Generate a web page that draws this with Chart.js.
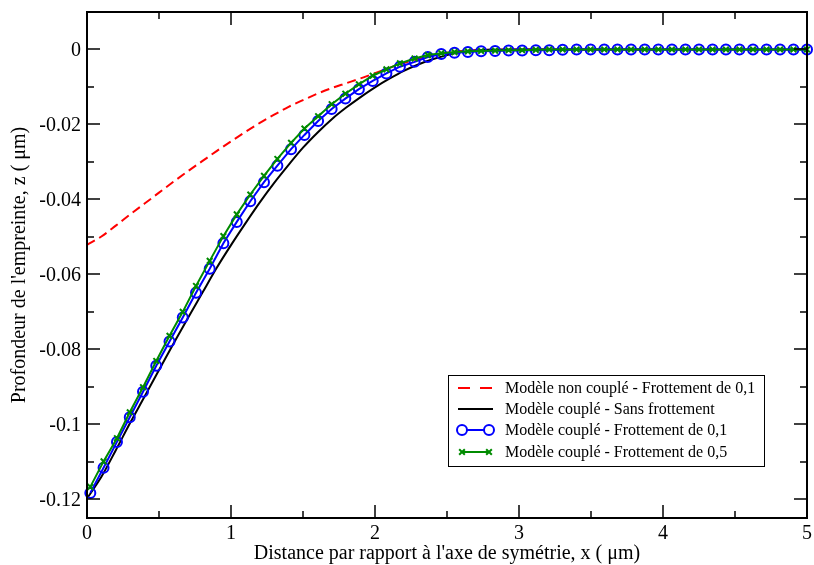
<!DOCTYPE html>
<html>
<head>
<meta charset="utf-8">
<script src="https://cdn.jsdelivr.net/npm/chart.js@4.4.1/dist/chart.umd.min.js"></script>
<style>
  html, body { margin: 0; padding: 0; background: #fff; }
</style>
</head>
<body>
<canvas id="chart" width="814" height="565"></canvas>
<script>
// Courbes continues (lignes sans symboles)
const curveX = [0, 0.1, 0.2, 0.3, 0.4, 0.5, 0.6, 0.7, 0.8, 0.9, 1.0, 1.1, 1.2, 1.3, 1.4, 1.5, 1.6, 1.7, 1.8, 1.9,
                2.0, 2.1, 2.2, 2.3, 2.4, 2.5, 2.6, 2.7, 2.8, 3.0, 4.0, 5.0];
const nonCoupleY = [-0.0521, -0.0499, -0.0470, -0.0440, -0.0411, -0.0382, -0.0353, -0.0325, -0.0298, -0.0271,
                    -0.0245, -0.0220, -0.0196, -0.0174, -0.0153, -0.0135, -0.0118, -0.0103, -0.0090, -0.0077,
                    -0.0063, -0.0049, -0.0036, -0.0025, -0.0016, -0.0009, -0.0004, -0.0002, -0.0001, 0, 0, 0];
const sansFrottY = [-0.1198, -0.1140, -0.1069, -0.0996, -0.0926, -0.0855, -0.0785, -0.0717, -0.0650, -0.0583,
                    -0.0522, -0.0464, -0.0408, -0.0356, -0.0308, -0.0262, -0.0222, -0.0186, -0.0155, -0.0127,
                    -0.0101, -0.0078, -0.0057, -0.0040, -0.0026, -0.0015, -0.0007, -0.0003, -0.0001, 0, 0, 0];

// Noeuds du modèle couplé (symboles)
const markerX = [0.023, 0.115, 0.208, 0.297, 0.389, 0.481, 0.573, 0.665, 0.757, 0.852,
                 0.947, 1.04, 1.134, 1.229, 1.322, 1.417, 1.51, 1.605, 1.699, 1.794,
                 1.888, 1.984, 2.079, 2.173, 2.275, 2.367, 2.46, 2.552, 2.645, 2.737,
                 2.834, 2.928, 3.022, 3.117, 3.21, 3.303, 3.4, 3.497, 3.592, 3.684,
                 3.778, 3.873, 3.968, 4.062, 4.156, 4.25, 4.344, 4.437, 4.531, 4.625,
                 4.719, 4.813, 4.906, 5.0];
const frott01Y = [-0.1183, -0.1116, -0.1047, -0.0981, -0.0913, -0.0844, -0.0779, -0.0715, -0.0649, -0.0585,
                  -0.0517, -0.0460, -0.0405, -0.0354, -0.0310, -0.0266, -0.0228, -0.0191, -0.0159, -0.0131,
                  -0.0106, -0.0084, -0.0064, -0.0046, -0.0033, -0.0020, -0.0012, -0.0009, -0.0007, -0.0005,
                  -0.0004, -0.0003, -0.0003, -0.0002, -0.0002, -0.0001, 0, 0, 0, 0,
                  0, 0, 0, 0, 0, 0, 0, 0, 0, 0,
                  0, 0, 0, 0];
const frott05Y = [-0.1167, -0.1099, -0.1037, -0.0968, -0.0901, -0.0831, -0.0764, -0.0700, -0.0631, -0.0564,
                  -0.0498, -0.0440, -0.0387, -0.0337, -0.0292, -0.0249, -0.0211, -0.0178, -0.0146, -0.0118,
                  -0.0093, -0.0070, -0.0053, -0.0037, -0.0024, -0.0015, -0.0010, -0.0007, -0.0005, -0.0004,
                  -0.0003, -0.0002, -0.0002, -0.0001, 0, 0, 0, 0, 0, 0,
                  0, 0, 0, 0, 0, 0, 0, 0, 0, 0,
                  0, 0, 0, 0];

const seriesLabels = [
    'Modèle non couplé - Frottement de 0,1',
    'Modèle couplé - Sans frottement',
    'Modèle couplé - Frottement de 0,1',
    'Modèle couplé - Frottement de 0,5'
];

// Graduations
const xTicks = [0, 1, 2, 3, 4, 5];
const xTickLabels = ['0', '1', '2', '3', '4', '5'];
const xMinor = [0.5, 1.5, 2.5, 3.5, 4.5];
const yTicks = [-0.12, -0.1, -0.08, -0.06, -0.04, -0.02, 0];
const yTickLabels = ['-0.12', '-0.1', '-0.08', '-0.06', '-0.04', '-0.02', '0'];
const yMinor = [-0.11, -0.09, -0.07, -0.05, -0.03, -0.01];

const xTitle = 'Distance par rapport à l\'axe de symétrie, x ( μm)';
const yTitle = 'Profondeur de l\'empreinte, z ( μm)';

const FONT = '"Liberation Serif", "Times New Roman", serif';

function pts(xs, ys) {
    return xs.map((x, i) => ({ x: x, y: ys[i] }));
}

// Cadre, graduations intérieures, libellés, titres d'axes et légende
const decor = {
    id: 'decor',
    afterDraw(chart) {
        const ctx = chart.ctx;
        const a = chart.chartArea;
        const xs = chart.scales.x, ys = chart.scales.y;
        ctx.save();
        ctx.strokeStyle = '#000';

        ctx.lineWidth = 1.5;
        const tick = (x1, y1, x2, y2) => { ctx.beginPath(); ctx.moveTo(x1, y1); ctx.lineTo(x2, y2); ctx.stroke(); };
        xTicks.forEach(v => { const p = Math.round(xs.getPixelForValue(v)); tick(p, a.bottom, p, a.bottom - 13); tick(p, a.top, p, a.top + 13); });
        xMinor.forEach(v => { const p = Math.round(xs.getPixelForValue(v)); tick(p, a.bottom, p, a.bottom - 7); tick(p, a.top, p, a.top + 7); });
        yTicks.forEach(v => { const p = Math.round(ys.getPixelForValue(v)); tick(a.left, p, a.left + 13, p); tick(a.right, p, a.right - 13, p); });
        yMinor.forEach(v => { const p = Math.round(ys.getPixelForValue(v)); tick(a.left, p, a.left + 7, p); tick(a.right, p, a.right - 7, p); });

        ctx.lineWidth = 2;
        ctx.strokeRect(a.left, a.top, a.right - a.left, a.bottom - a.top);

        // libellés des graduations
        ctx.fillStyle = '#000';
        ctx.font = '20px ' + FONT;
        ctx.textAlign = 'right';
        ctx.textBaseline = 'middle';
        yTicks.forEach((v, i) => ctx.fillText(yTickLabels[i], a.left - 6, ys.getPixelForValue(v) + 1));
        ctx.textAlign = 'center';
        xTicks.forEach((v, i) => ctx.fillText(xTickLabels[i], xs.getPixelForValue(v), a.bottom + 16));

        // titres
        const cx = (a.left + a.right) / 2, cy = (a.top + a.bottom) / 2;
        ctx.textBaseline = 'alphabetic';
        ctx.fillText(xTitle, cx, 559);
        ctx.save();
        ctx.translate(25, cy);
        ctx.rotate(-Math.PI / 2);
        ctx.fillText(yTitle, 0, 0);
        ctx.restore();

        // légende
        const bx = 448, by = 375, bw = 316, bh = 91;
        ctx.fillStyle = '#fff';
        ctx.fillRect(bx, by, bw, bh);
        ctx.lineWidth = 1;
        ctx.strokeStyle = '#000';
        ctx.strokeRect(bx + 0.5, by + 0.5, bw, bh);
        ctx.font = '16px ' + FONT;
        ctx.textAlign = 'left';
        ctx.textBaseline = 'middle';
        const rows = [388, 409, 430, 452];
        chart.data.datasets.forEach((ds, i) => {
            const y = rows[i];
            const x1 = 462, x2 = 489;
            ctx.save();
            ctx.strokeStyle = ds.borderColor;
            ctx.lineWidth = ds.borderWidth;
            ctx.setLineDash(ds.borderDash ? [12, 10] : []);
            ctx.beginPath();
            ctx.moveTo(ds.pointRadius > 0 ? x1 : 458, y);
            ctx.lineTo(ds.pointRadius > 0 ? x2 : 493, y);
            ctx.stroke();
            ctx.setLineDash([]);
            if (ds.pointRadius > 0) {
                ctx.fillStyle = '#fff';
                ctx.lineWidth = ds.pointBorderWidth;
                [x1, x2].forEach(px => {
                    Chart.helpers.drawPoint(ctx, {
                        pointStyle: ds.pointStyle, radius: ds.pointRadius,
                        borderWidth: ds.pointBorderWidth, rotation: 0
                    }, px, y);
                });
            }
            ctx.restore();
            ctx.fillStyle = '#000';
            ctx.fillText(ds.label, 505, y + 1);
        });
        ctx.restore();
    }
};

new Chart(document.getElementById('chart'), {
    type: 'line',
    data: {
        datasets: [
            {
                label: seriesLabels[0],
                data: pts(curveX, nonCoupleY),
                borderColor: '#ff0000',
                borderWidth: 2,
                borderDash: [9, 5],
                pointRadius: 0,
                cubicInterpolationMode: 'monotone',
                order: 4
            },
            {
                label: seriesLabels[1],
                data: pts(curveX, sansFrottY),
                borderColor: '#000000',
                borderWidth: 2,
                pointRadius: 0,
                cubicInterpolationMode: 'monotone',
                order: 3
            },
            {
                label: seriesLabels[2],
                data: pts(markerX, frott01Y),
                borderColor: '#0000ff',
                borderWidth: 2,
                pointStyle: 'circle',
                pointRadius: 5,
                pointBorderWidth: 2,
                pointBorderColor: '#0000ff',
                pointBackgroundColor: 'rgba(0,0,0,0)',
                tension: 0,
                order: 2
            },
            {
                label: seriesLabels[3],
                data: pts(markerX, frott05Y),
                borderColor: '#008b00',
                borderWidth: 2,
                pointStyle: 'crossRot',
                pointRadius: 4,
                pointBorderWidth: 2,
                pointBorderColor: '#008b00',
                tension: 0,
                order: 1
            }
        ]
    },
    options: {
        responsive: false,
        animation: false,
        clip: false,
        layout: { padding: { top: 12, right: 4, left: 0, bottom: 0 } },
        plugins: { legend: { display: false }, tooltip: { enabled: false }, title: { display: false } },
        scales: {
            x: {
                type: 'linear',
                min: 0, max: 5,
                grid: { display: false },
                border: { display: false },
                ticks: { display: false },
                afterFit: s => { s.height = 47; }
            },
            y: {
                type: 'linear',
                min: -0.125, max: 0.01,
                grid: { display: false },
                border: { display: false },
                ticks: { display: false },
                afterFit: s => { s.width = 87; }
            }
        }
    },
    plugins: [decor]
});
</script>
</body>
</html>
